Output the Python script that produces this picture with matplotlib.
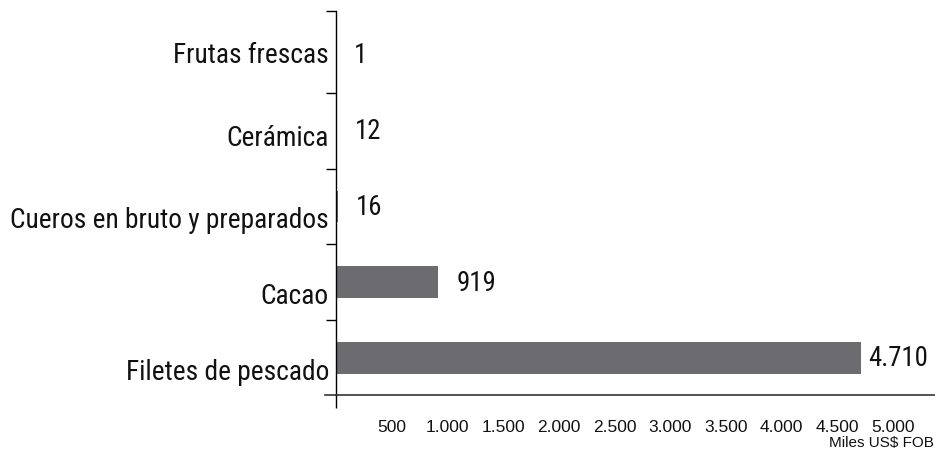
import matplotlib
matplotlib.use("Agg")
import matplotlib.pyplot as plt
from matplotlib import font_manager as fm

categories = ["Filetes de pescado", "Cacao", "Cueros en bruto y preparados", "Cerámica", "Frutas frescas"]
values = [4710, 919, 16, 12, 1]
value_labels = ["4.710", "919", "16", "12", "1"]
xticks = [500, 1000, 1500, 2000, 2500, 3000, 3500, 4000, 4500, 5000]
xtick_labels = ["500", "1.000", "1.500", "2.000", "2.500", "3.000", "3.500", "4.000", "4.500", "5.000"]
unit_label = "Miles US$ FOB"

names = {f.name for f in fm.fontManager.ttflist}
narrow = next((n for n in ["Liberation Sans Narrow", "Roboto Condensed", "Archivo Narrow", "PT Sans Narrow"]
               if n in names), "DejaVu Sans")
regular = "Liberation Sans"

W, H = 935, 452
fig = plt.figure(figsize=(W / 100, H / 100), dpi=100)
renderer = fig.canvas.get_renderer()


def fit_size(text, family, target_px, base=20.0):
    t = fig.text(0, 0, text, family=family, fontsize=base)
    w = t.get_window_extent(renderer).width
    t.remove()
    return base * target_px / w


cat_size = fit_size("Cueros en bruto y preparados", narrow, 317)
val_size = fit_size("4.710", narrow, 60)

ax = fig.add_axes([336 / W, (H - 396) / H, (W - 336) / W, (396 - 12) / H])
PX_PER_Y = (396 - 12) / (4.58 + 0.49)

bar_color = "#6c6c70"
ypos = list(range(len(categories)))
ax.barh(ypos, values, height=0.42, color=bar_color)
ax.set_xlim(0, 599 / 0.1114)
ax.set_ylim(-0.49, 4.58)

# value labels
offsets_px = [7, 18, 18, 18, 18]
for y, v, lab, off in zip(ypos, values, value_labels, offsets_px):
    ax.annotate(lab, (v, y), xytext=(off * 0.72, 0), textcoords="offset points",
                ha="left", va="center", fontsize=val_size, family=narrow, color="#111111")

# category labels (placed slightly below their bars, as in the original)
label_drop_px = [14, 13.5, 13, 7, 0]
for y, cat, drop in zip(ypos, categories, label_drop_px):
    ax.annotate(cat, (0, y), xytext=(-7 * 0.72, -drop * 0.72), textcoords="offset points",
                ha="right", va="center", fontsize=cat_size, family=narrow, color="#111111",
                annotation_clip=False)

ax.set_yticks([])
ax.set_yticks([0.5, 1.5, 2.5, 3.5, 4.58], minor=True)
ax.tick_params(axis="y", which="minor", length=7, width=1, direction="out", color="black")
ax.yaxis.set_minor_formatter(plt.NullFormatter())

# x axis
ax.set_xticks([0] + xticks)
ax.set_xticklabels([""] + xtick_labels, family=regular, fontsize=12.5, color="#111111")
ax.tick_params(axis="x", which="major", length=0, pad=17)
ax.xaxis.get_major_ticks()[0].tick1line.set_markersize(9)
ax.xaxis.get_major_ticks()[0].tick1line.set_markeredgewidth(1)

for s in ["top", "right"]:
    ax.spines[s].set_visible(False)
ax.spines["left"].set_linewidth(1)
ax.spines["bottom"].set_linewidth(1.2)
ax.spines["bottom"].set_color("#333333")
ax.spines["left"].set_color("black")

# extension of the baseline to the left of the value axis origin
ax.plot([-11 / 0.1114, 0], [-0.49, -0.49], color="#333333", lw=1.2, clip_on=False)

fig.text(934 / W, (H - 443) / H, unit_label, ha="right", va="center",
         family=regular, fontsize=11, color="#111111")

fig.savefig("out.png", dpi=100)
